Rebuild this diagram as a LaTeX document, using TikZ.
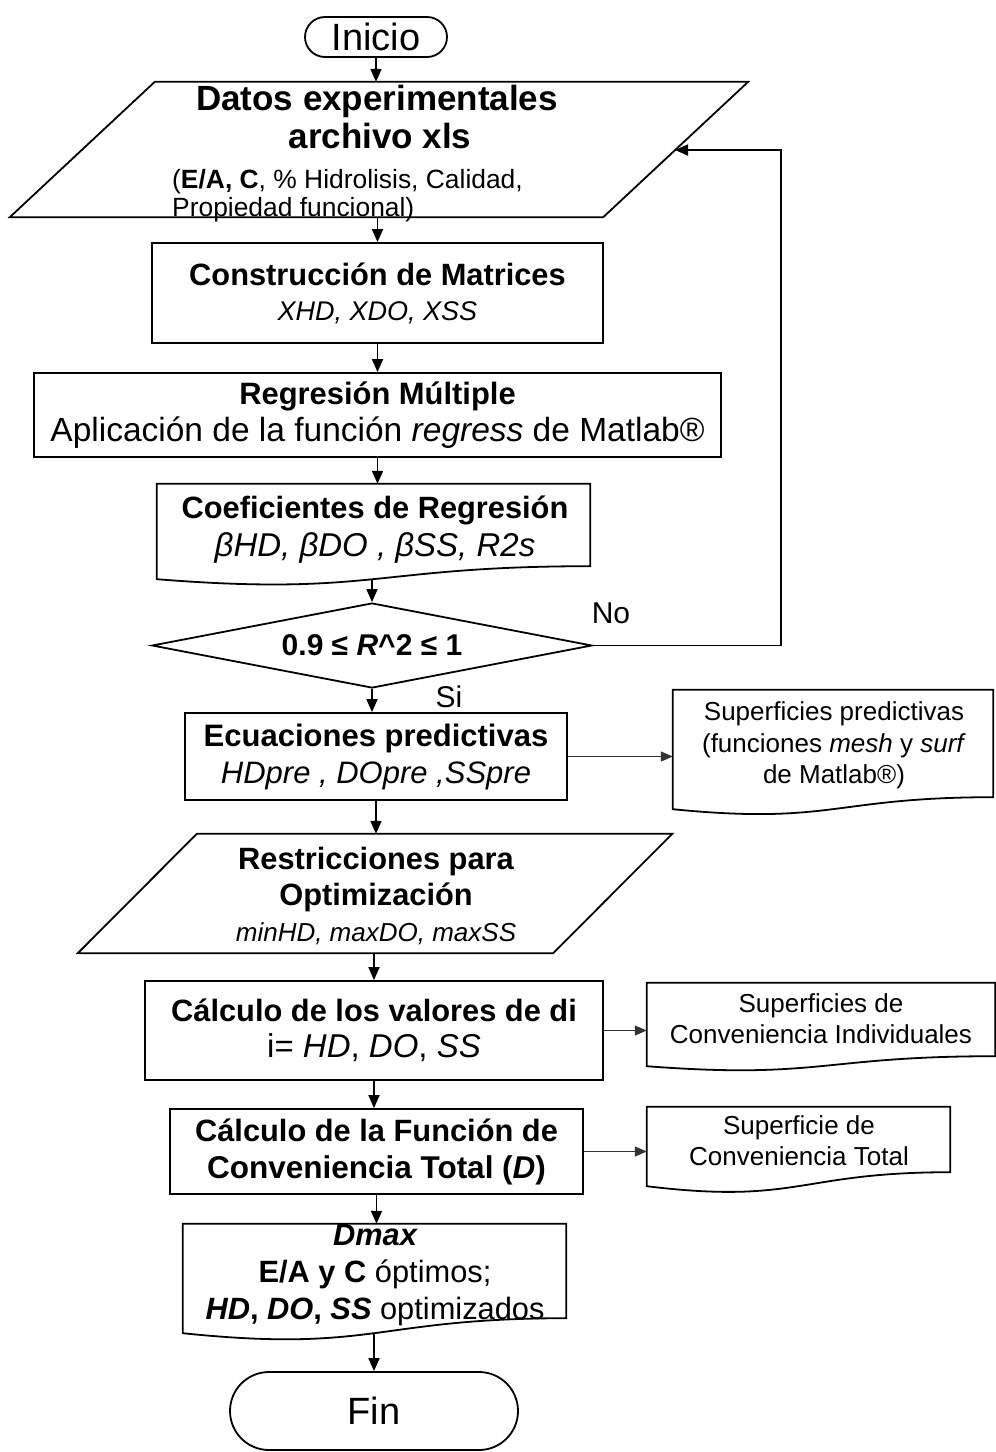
\documentclass[tikz,border=0pt]{standalone}
\usepackage{fontspec}
\setmainfont{Liberation Sans}
\usetikzlibrary{shapes.geometric,arrows.meta,calc}
\newcommand{\fsz}[2]{\fontsize{#1}{#2}\selectfont}
\begin{document}
\begin{tikzpicture}[x=1pt,y=-1pt,
  outline/.style={line width=1.8pt, line join=miter},
  box/.style={draw, line width=1.8pt, rectangle, inner sep=0pt, align=center},
  ghost/.style={rectangle, inner sep=0pt, align=center},
  txt/.style={inner sep=0pt, align=center},
  flow/.style={line width=1.8pt, -{Triangle[length=13pt,width=11pt]}},
  side/.style={line width=1.2pt, draw=black!80, -{Triangle[length=12pt,width=10pt]}}]
\newcommand{\docshape}[2]{\draw[outline] ($(#1.south west)+(0,#2)$) .. controls ($(#1.south)+(0,2.32*#2)$) and (#1.south) .. (#1.south east) -- (#1.north east) -- (#1.north west) -- cycle;}
\useasboundingbox (0,0) rectangle (996,1452);

% Inicio
\node[box, rounded corners=20pt, minimum width=142pt, minimum height=40pt, font=\fsz{38}{40}] (inicio) at (376,37) {Inicio};

% Datos (parallelogram)
\node[ghost, minimum width=738pt, minimum height=135pt] (datos) at (379,149.5) {};
\draw[outline] ($(datos.north west)+(145,0)$) -- (datos.north east) -- ($(datos.south east)+(-145,0)$) -- (datos.south west) -- cycle;
\node[txt, anchor=base, font=\fsz{35}{38}\bfseries] (datosA) at (377,110) {Datos experimentales};
\node[txt, anchor=base, font=\fsz{35}{38}\bfseries] (datosB) at (380,148) {archivo xls};
\node[txt, anchor=base west, font=\fsz{26.4}{30}] (datosC) at (172,188) {(\textbf{E/A, C}, \% Hidrolisis, Calidad,};
\node[txt, anchor=base west, font=\fsz{26.4}{30}] (datosD) at (172,216) {Propiedad funcional)};

% Construccion
\node[box, minimum width=451pt, minimum height=100pt, font=\fsz{30.8}{35}] (cons) at (377.5,293)
  {{\bfseries Construcción de Matrices}\\{\fsz{27}{35}\itshape XHD, XDO, XSS}};

% Regresion
\node[box, minimum width=687pt, minimum height=84pt, font=\fsz{30.9}{37}] (regr) at (377.5,415)
  {{\bfseries Regresión Múltiple}\\{\fsz{33.5}{37}Aplicación de la función \textit{regress} de Matlab®}};

% Coeficientes (document)
\node[ghost, minimum width=433pt, minimum height=82pt] (coef) at (373.5,525) {};
\docshape{coef}{13}
\node[txt, font=\fsz{30.8}{38}] (coefT) at (375,530)
  {{\bfseries Coeficientes de Regresión}\\{\fsz{33}{38}\itshape βHD, βDO , βSS, R2s}};

% Decision
\node[draw, diamond, line width=1.8pt, minimum width=440pt, minimum height=85pt, inner sep=0pt, aspect=5.2, font=\fsz{30}{35}\bfseries] (dia) at (372,645.5)
  {0.9 ≤ \textit{R}\textasciicircum2 ≤ 1};
\node[txt, font=\fsz{30}{35}] (no) at (611,613) {No};
\node[txt, font=\fsz{30}{35}] (si) at (449,697) {Si};

% Ecuaciones
\node[box, minimum width=382pt, minimum height=87pt, font=\fsz{31}{37}] (ecu) at (376,756.5)
  {{\bfseries Ecuaciones predictivas}\\{\itshape HDpre , DOpre ,SSpre}};

% Superficies predictivas (document)
\node[ghost, minimum width=320pt, minimum height=107pt] (supp) at (833,743.5) {};
\docshape{supp}{12}
\node[txt, font=\fsz{26}{31.5}] (suppT) at (834,745.5)
  {Superficies predictivas\\(funciones \textit{mesh} y \textit{surf}\\de Matlab®)};

% Restricciones (parallelogram)
\node[ghost, minimum width=594pt, minimum height=119pt] (restr) at (375,893.5) {};
\draw[outline] ($(restr.north west)+(119,0)$) -- (restr.north east) -- ($(restr.south east)+(-119,0)$) -- (restr.south west) -- cycle;
\node[txt, font=\fsz{30.8}{36}] (restrT) at (376,896)
  {{\bfseries Restricciones para}\\{\bfseries Optimización}\\{\fsz{26}{36}\itshape minHD, maxDO, maxSS}};

% Calculo di
\node[box, minimum width=458pt, minimum height=99pt, font=\fsz{30.8}{36}] (cdi) at (374,1030.5)
  {{\bfseries Cálculo de los valores de di}\\{\fsz{33}{36}i= \textit{HD}, \textit{DO}, \textit{SS}}};

% Superficies de Conveniencia Individuales (document)
\node[ghost, minimum width=348pt, minimum height=73pt] (sci) at (821,1019.5) {};
\docshape{sci}{10}
\node[txt, font=\fsz{26}{31}] (sciT) at (821,1018.5)
  {Superficies de\\Conveniencia Individuales};

% Calculo funcion
\node[box, minimum width=413pt, minimum height=85pt, font=\fsz{30.8}{37}\bfseries] (cft) at (376.5,1151.5)
  {Cálculo de la Función de\\{\fsz{31.5}{37}Conveniencia Total (\textit{D})}};

% Superficie de Conveniencia Total (document)
\node[ghost, minimum width=303pt, minimum height=65pt] (sct) at (798.5,1139.5) {};
\docshape{sct}{14}
\node[txt, font=\fsz{26}{31}] (sctT) at (799,1141)
  {Superficie de\\Conveniencia Total};

% Dmax (document)
\node[ghost, minimum width=383pt, minimum height=94pt] (dmax) at (374.5,1271) {};
\docshape{dmax}{15}
\node[txt, font=\fsz{30.8}{37}] (dmaxT) at (375,1275)
  {{\bfseries\itshape Dmax}\\\textbf{E/A y C} óptimos;\\\textbf{\textit{HD}, \textit{DO}, \textit{SS}} optimizados};

% Fin
\node[box, rounded corners=39pt, minimum width=288pt, minimum height=78pt, font=\fsz{38}{40}] (fin) at (374,1411) {Fin};

% connectors
\coordinate (coefB) at ($(coef.south)+(0,13)$);
\coordinate (dmaxB) at ($(dmax.south)+(0,15)$);
\coordinate (fbR) at (781,150);
\coordinate (fbEnd) at (675,150);

\draw[flow] (inicio.south) -- (inicio.south |- datos.north);
\draw[flow] (cons.north |- datos.south) -- (cons.north);
\draw[flow] (cons.south) -- (cons.south |- regr.north);
\draw[flow] (regr.south) -- (regr.south |- coef.north);
\draw[flow] (dia.north |- coefB) -- (dia.north);
\draw[flow] (dia.south) -- (dia.south |- ecu.north);
\draw[flow] (ecu.south) -- (ecu.south |- restr.north);
\draw[flow] (cdi.north |- restr.south) -- (cdi.north);
\draw[flow] (cdi.south) -- (cdi.south |- cft.north);
\draw[flow] (cft.south) -- (cft.south |- dmax.north);
\draw[flow] (fin.north |- dmaxB) -- (fin.north);
\draw[flow] (dia.east) -| (fbR) -- (fbEnd);

\draw[side] (ecu.east) -- (ecu.east -| supp.west);
\draw[side] (cdi.east) -- (cdi.east -| sci.west);
\draw[side] (cft.east) -- (cft.east -| sct.west);
\end{tikzpicture}
\end{document}
